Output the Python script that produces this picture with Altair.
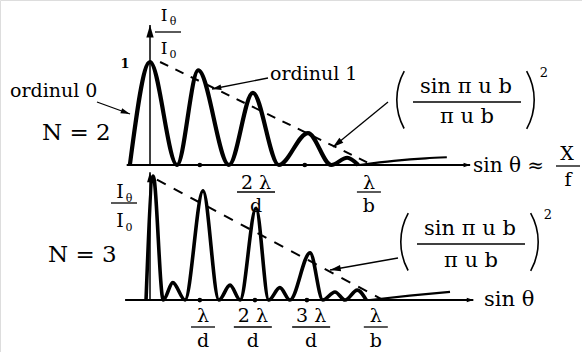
import altair as alt
import pandas as pd

SERIF = "DejaVu Serif"

# ---------------------------------------------------------------
# Diffraction pattern of a grating: x in units of lambda/d,
# y as I_theta / I_0.
# ---------------------------------------------------------------

# N = 2 slits
n2_u = [-0.38, 0.0, 0.51, 0.91, 1.49, 1.94, 2.43, 2.98, 3.42, 3.72, 3.93]
n2_I = [0.0, 1.0, 0.0, 0.92, 0.0, 0.70, 0.0, 0.31, 0.0, 0.07, 0.0]
n2_tail_u = [3.95, 4.6, 5.2, 5.6]
n2_tail_I = [0.0, 0.04, 0.065, 0.075]
n2_env_u = [0.19, 4.2]
n2_env_I = [1.0, 0.0]
n2_dots_u = [0.94, 2.92]

# N = 3 slits
n3_u = [-0.075, 0.06, 0.25, 0.43, 0.66, 1.0, 1.30, 1.51, 1.70, 2.0, 2.24,
        2.45, 2.64, 3.02, 3.26, 3.49, 3.68, 3.91, 4.08]
n3_I = [0.0, 1.0, 0.0, 0.14, 0.0, 0.88, 0.0, 0.12, 0.0, 0.74, 0.0,
        0.10, 0.0, 0.38, 0.0, 0.065, 0.0, 0.08, 0.0]
n3_tail_u = [4.15, 4.9, 5.66]
n3_tail_I = [0.0, 0.035, 0.065]
n3_env_u = [0.13, 4.4]
n3_env_I = [0.97, 0.0]
n3_dots_u = [0.94, 1.98, 2.96]

# axis extents
n2_axis_u = [-0.44, 6.04]
n2_axis_top = 1.36
n3_axis_u = [-0.47, 6.1]
n3_axis_top = 1.03

# tick labels under the axes (position in lambda/d, numerator, denominator)
n2_tick_u = [2.0, 4.13]
n2_tick_num = ["2 λ", "λ"]
n2_tick_den = ["d", "b"]
n3_tick_u = [1.0, 1.94, 3.04, 4.26]
n3_tick_num = ["λ", "2 λ", "3 λ", "λ"]
n3_tick_den = ["d", "d", "d", "b"]

# free-standing labels: text, x, baseline y, font size, alignment
labels = [
    ("1", 125, 68, 13, "center"),
    ("ordinul 0", 10, 97, 19, "left"),
    ("N = 2", 42, 140, 23, "left"),
    ("ordinul 1", 270, 80, 19, "left"),
    ("N = 3", 48, 262, 23, "left"),
    ("sin θ ≈", 473, 172, 20, "left"),
    ("X", 567, 160, 19, "center"),
    ("f", 568, 186, 19, "center"),
    ("sin θ", 484, 306, 21, "left"),
]

X_SCALE = alt.Scale(domain=[-2.83, 8.15], nice=False, zero=False)
Y_TOP = alt.Scale(domain=[-1.816, 1.602], nice=False, zero=False)
Y_BOT = alt.Scale(domain=[-0.419, 2.419], nice=False, zero=False)

ONE = alt.InlineData(values=[{"k": 0}])
HEAD_UP = "M0,0L0.7,2.4L-0.7,2.4Z"
HEAD_RIGHT = "M0,0L-2.4,0.8L-2.4,-0.8Z"


def xy(yscale):
    return dict(x=alt.X("u:Q", scale=X_SCALE, axis=None),
                y=alt.Y("I:Q", scale=yscale, axis=None))


def curve(u, I, yscale, width, dash=None, interp="monotone"):
    kw = dict(color="black", strokeWidth=width, interpolate=interp)
    if dash:
        kw["strokeDash"] = dash
    return alt.Chart(pd.DataFrame({"u": u, "I": I})).mark_line(**kw).encode(**xy(yscale))


def vaxis(top, yscale, head_size):
    df = pd.DataFrame({"u": [0.0], "I": [0.0], "I2": [top]})
    rule = alt.Chart(df).mark_rule(color="black", strokeWidth=1.5).encode(
        x=alt.X("u:Q", scale=X_SCALE, axis=None),
        y=alt.Y("I:Q", scale=yscale, axis=None), y2="I2:Q")
    tip = alt.Chart(pd.DataFrame({"u": [0.0], "I": [top]})).mark_point(
        shape=HEAD_UP, filled=True, size=head_size, color="black", opacity=1
    ).encode(**xy(yscale))
    return rule + tip


def haxis(ext, yscale):
    line = curve(ext, [0.0, 0.0], yscale, 2, interp="linear")
    tip = alt.Chart(pd.DataFrame({"u": [ext[1]], "I": [0.0]})).mark_point(
        shape=HEAD_RIGHT, filled=True, size=30, color="black", opacity=1
    ).encode(**xy(yscale))
    return line + tip


def dots(u, yscale):
    return alt.Chart(pd.DataFrame({"u": u, "I": [0.0] * len(u)})).mark_circle(
        size=22, color="black", opacity=1).encode(**xy(yscale))


def frac_ticks(u, num, den, y_num, y_bar, y_den):
    layers = []
    for ui, a, b in zip(u, num, den):
        df = pd.DataFrame({"u": [ui], "num": [a], "den": [b]})
        base = alt.Chart(df).encode(x=alt.X("u:Q", scale=X_SCALE, axis=None))
        w = 38 if len(a) > 1 else 24
        layers += [
            base.mark_text(fontSize=19, baseline="alphabetic", color="black")
                .encode(y=alt.value(y_num), text="num:N"),
            base.mark_tick(orient="horizontal", size=w, thickness=1.3, color="black", opacity=1)
                .encode(y=alt.value(y_bar)),
            base.mark_text(fontSize=19, baseline="alphabetic", color="black")
                .encode(y=alt.value(y_den), text="den:N"),
        ]
    return layers


def text(s, x, y, size, align="center", weight="normal"):
    df = pd.DataFrame({"t": [s]})
    return alt.Chart(df).mark_text(
        fontSize=size, align=align, baseline="alphabetic",
        fontWeight=weight, color="black"
    ).encode(x=alt.value(x), y=alt.value(y), text="t:N")


def seg(x1, y1, x2, y2, w=1.3):
    return alt.Chart(ONE).mark_rule(color="black", strokeWidth=w).encode(
        x=alt.value(x1), y=alt.value(y1), x2=alt.value(x2), y2=alt.value(y2))


def arrow(x1, y1, x2, y2, angle, size=60):
    head = alt.Chart(ONE).mark_point(
        shape=HEAD_UP, filled=True, size=size, angle=angle, color="black", opacity=1
    ).encode(x=alt.value(x2), y=alt.value(y2))
    return [seg(x1, y1, x2, y2), head]


def paren(cx, cy, left):
    # a thin circular arc drawn as a tall bracket
    t1, t2 = (4.21, 5.22) if left else (1.06, 2.08)
    return alt.Chart(ONE).mark_arc(
        theta=t1, theta2=t2, radius=60, radius2=58.4, color="black"
    ).encode(x=alt.value(cx), y=alt.value(cy))


def intensity_label(x, y_top, y_bar, y_bot, size):
    return [
        text("I", x - 4, y_top, size),
        text("θ", x + 5, y_top + 4, 11),
        seg(x - 13, y_bar, x + 13, y_bar, 1.3),
        text("I", x - 4, y_bot, size),
        text("0", x + 5, y_bot + 4, 11),
    ]


def sinc_formula(cx, y_num, y_bar, y_den):
    return [
        paren(cx - 10, y_bar - 2, True),
        text("sin  π u b", cx, y_num, 21),
        seg(cx - 53, y_bar, cx + 55, y_bar, 1.3),
        text("π u b", cx + 1, y_den, 21),
        paren(cx + 9, y_bar - 2, False),
        text("2", cx + 78, y_num - 16, 13),
    ]


top = alt.layer(
    curve(n2_env_u, n2_env_I, Y_TOP, 2, dash=[9, 8], interp="linear"),
    haxis(n2_axis_u, Y_TOP),
    vaxis(n2_axis_top, Y_TOP, 110),
    curve(n2_u, n2_I, Y_TOP, 4.2),
    curve(n2_tail_u, n2_tail_I, Y_TOP, 2.2),
    dots(n2_dots_u, Y_TOP),
)

bottom = alt.layer(
    curve(n3_env_u, n3_env_I, Y_BOT, 2, dash=[10, 9], interp="linear"),
    haxis(n3_axis_u, Y_BOT),
    vaxis(n3_axis_top, Y_BOT, 70),
    curve(n3_u, n3_I, Y_BOT, 3.6),
    curve(n3_tail_u, n3_tail_I, Y_BOT, 2.2),
    dots(n3_dots_u, Y_BOT),
)

notes = []
notes += frac_ticks(n2_tick_u, n2_tick_num, n2_tick_den, 189, 192, 212)
notes += frac_ticks(n3_tick_u, n3_tick_num, n3_tick_den, 322, 327, 347)
notes += intensity_label(168, 21, 32, 54, 17)
notes += intensity_label(124, 198, 203, 227, 19)
for s, x, y, size, align in labels:
    notes.append(text(s, x, y, size, align, "bold" if s == "1" else "normal"))
notes.append(seg(556, 166, 580, 166, 1.3))
notes += sinc_formula(466, 93, 102, 123)
notes += sinc_formula(470, 235, 244, 267)
notes += arrow(97, 102, 130, 114, 110)
notes += arrow(268, 78, 212, 89, 259)
notes += arrow(388, 102, 333, 147, 231, 80)
notes += arrow(398, 258, 330, 270, 260, 80)

chart = alt.layer(top, bottom, *notes).resolve_scale(y="independent").properties(
    width=582, height=352, padding=0, autosize="none", background="white"
).configure_view(stroke=None).configure_text(font=SERIF).configure(font=SERIF)

chart.save("out.html", embed_options={"renderer": "svg", "actions": False})
